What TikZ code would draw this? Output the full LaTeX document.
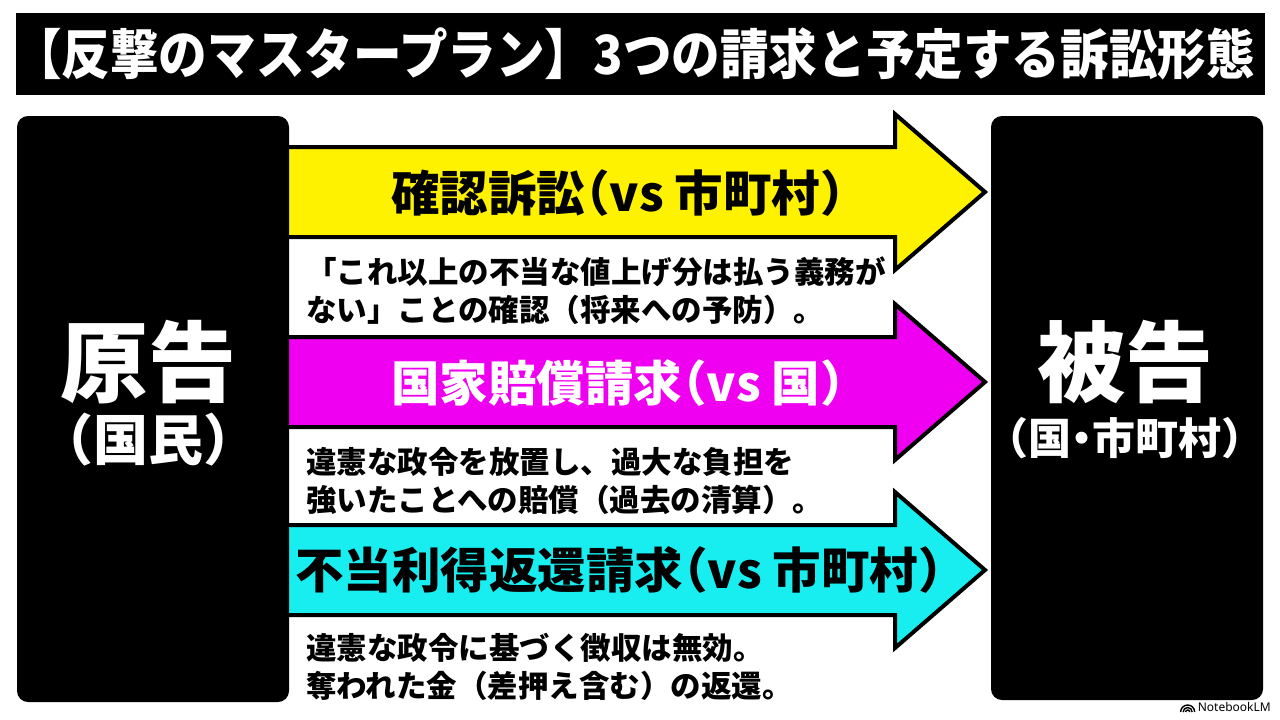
\documentclass[tikz,border=0pt]{standalone}
\usepackage{fontspec}
\usepackage{graphicx}
\usepackage{tikz}
\usetikzlibrary{positioning}
\newfontfamily\jpfont{Noto Sans CJK JP}
\newfontfamily\jphalf{Noto Sans CJK JP}[RawFeature=+halt]
\newfontfamily\logofont{Noto Sans}
\newcommand{\fsz}[2]{\fontsize{#1}{#2}\selectfont}
\definecolor{bandyellow}{RGB}{255,242,0}
\definecolor{bandmagenta}{RGB}{240,0,240}
\definecolor{bandcyan}{RGB}{24,238,240}
% one claim arrow: centre line, colour
\newcommand{\claimarrow}[2]{\draw[band, fill=#2] (284,#1-45) -- (895,#1-45) -- (895,#1-78) -- (985,#1) -- (895,#1+78) -- (895,#1+45) -- (284,#1+45);}

\begin{document}
\begin{tikzpicture}[x=1pt,y=-1pt]
                        \tikzstyle{band}=[draw=black, line width=4pt, line join=miter]
                        \tikzstyle{party}=[fill=black, rounded corners=11pt]
                        \tikzstyle{claim}=[font=\jphalf\bfseries\fsz{48.5}{54}, inner sep=0pt]
                        \tikzstyle{note}=[anchor=west, align=left, inner sep=0pt, font=\jpfont\bfseries\fsz{30.5}{38}]
                        \fill[white] (0,0) rectangle (1280,720);
                        \useasboundingbox (0,0) rectangle (1280,720);
                        % title bar
                        \fill[black] (16,13) rectangle (1265,95);
                        \node[text=white, font=\jpfont\bfseries\fsz{54}{60}] (title) at (634,54)
                            {\scalebox{0.9}[1]{【反撃のマスタープラン】3つの請求と予定する訴訟形態}};
                        % arrows
                        \claimarrow{192}{bandyellow}
                        \claimarrow{382}{bandmagenta}
                        \claimarrow{570}{bandcyan}
                        \node[claim] (claimA) at (618,193) {確認訴訟（vs 市町村）};
                        \node[claim, text=white] (claimB) at (618,383) {国家賠償請求（vs 国）};
                        \node[claim] (claimC) at (619,570) {不当利得返還請求（vs 市町村）};
                        \node[note] (noteA) at (306,291) {「これ以上の不当な値上げ分は払う義務が\\ない」ことの確認（将来への予防）。};
                        \node[note] (noteB) at (306,481) {違憲な政令を放置し、過大な負担を\\強いたことへの賠償（過去の清算）。};
                        \node[note] (noteC) at (306,667) {違憲な政令に基づく徴収は無効。\\奪われた金（差押え含む）の返還。};
                        % parties
                        \fill[party] (17,116) rectangle (289,702);
                        \fill[party] (991,116) rectangle (1263,700);
                        \node[text=white, font=\jpfont\bfseries\fsz{88}{90}] (plaintiff) at (148,362) {原告};
                        \node[text=white, font=\jphalf\bfseries\fsz{55}{60}, below=2pt of plaintiff] (plaintiffsub) {（国民）};
                        \node[text=white, font=\jpfont\bfseries\fsz{88}{90}] (defendant) at (1125,362) {被告};
                        \node[text=white, font=\jphalf\bfseries\fsz{43}{48}, below=6pt of defendant] (defendantsub) {（国・市町村）};
                        % logo
                        \node[font=\logofont\bfseries\fsz{12}{13}, anchor=east, inner sep=0pt] (logo) at (1271,707) {NotebookLM};
                        \coordinate (logoicon) at ([xshift=-10pt,yshift=-5pt]logo.west);
                        \foreach \r in {2,4.5,7}
                            \draw[line width=1.4pt] (logoicon) ++(-\r,0) arc (180:360:\r);
\end{tikzpicture}
\end{document}
